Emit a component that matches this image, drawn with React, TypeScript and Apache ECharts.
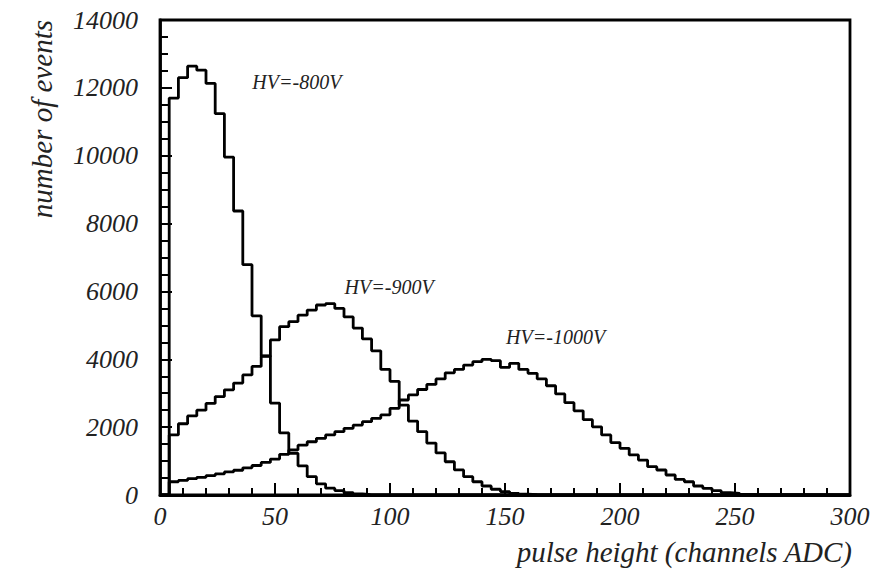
import React, { useEffect, useRef } from "react";
import * as echarts from "echarts";

// bin width of the histograms (ADC channels)
const binWidth = 4;
const xMax = 300;
const yMax = 14000;

// contents of consecutive 4-channel bins starting at channel 0
const hv800 = [0, 11700, 12300, 12640, 12520, 12130, 11240, 9960, 8370, 6790, 5280, 4100, 2710, 1830, 1230, 860, 540, 330, 200, 130, 70, 30, 10, 0];
const hv900 = [0, 1770, 2100, 2330, 2500, 2700, 2900, 3100, 3300, 3540, 3790, 4090, 4570, 4960, 5110, 5300, 5450, 5600, 5640, 5500, 5250, 4920, 4600, 4250, 3700, 3350, 2650, 2180, 1865, 1530, 1240, 980, 740, 540, 390, 265, 170, 100, 50, 25, 10, 0];
const hv1000 = [0, 390, 430, 480, 520, 570, 620, 680, 730, 800, 870, 960, 1060, 1200, 1330, 1470, 1570, 1670, 1770, 1865, 1965, 2060, 2160, 2260, 2360, 2555, 2800, 2950, 3110, 3260, 3420, 3600, 3700, 3830, 3930, 4000, 3960, 3760, 3880, 3700, 3585, 3420, 3220, 2980, 2720, 2480, 2220, 2010, 1770, 1545, 1375, 1180, 1030, 834, 737, 590, 460, 390, 265, 196, 127, 68, 50, 20, 10, 0];

// label annotations: [text, x (channels), y (events)]
const labels: [string, number, number][] = [
  ["HV=-800V", 59.5, 12180],
  ["HV=-900V", 99.6, 6140],
  ["HV=-1000V", 172, 4665],
];

const xAxisTitle = "pulse height (channels ADC)";
const yAxisTitle = "number of events";

const FONT = "'Liberation Serif', 'DejaVu Serif', serif";

function toSteps(values: number[]) {
  const pts: [number, number][] = values.map((v, i) => [i * binWidth, v]);
  pts.push([xMax, 0]);
  return pts;
}

export default function App() {
  const ref = useRef<HTMLDivElement>(null);
  useEffect(() => {
    if (!ref.current) return;
    const chart = echarts.init(ref.current, null, { renderer: "svg" });
    const lineStyle = { color: "#000", width: 2.8 };
    const makeSeries = (name: string, values: number[], lbl: [string, number, number]) => ({
      type: "line",
      name,
      step: "end",
      showSymbol: false,
      symbol: "none",
      lineStyle,
      data: toSteps(values),
      markPoint: {
        symbol: "circle",
        symbolSize: 0,
        silent: true,
        label: {
          show: true,
          position: "inside",
          formatter: lbl[0],
          fontFamily: FONT,
          fontStyle: "italic",
          fontSize: 20,
          color: "#222",
        },
        data: [{ coord: [lbl[1], lbl[2]] }],
      },
    });
    chart.setOption({
      animation: false,
      backgroundColor: "#fff",
      grid: {
        left: 160,
        top: 20,
        right: 34,
        bottom: 81,
        show: true,
        borderColor: "#000",
        borderWidth: 2.8,
        backgroundColor: "transparent",
      },
      xAxis: {
        type: "value",
        min: 0,
        max: xMax,
        interval: 50,
        axisLine: { show: true, lineStyle: { color: "#000", width: 2.8 } },
        axisTick: { show: true, inside: true, length: 12, lineStyle: { color: "#000", width: 2 } },
        minorTick: { show: true, splitNumber: 5, length: 7, lineStyle: { color: "#000", width: 2 } },
        splitLine: { show: false },
        axisLabel: {
          margin: 8,
          formatter: (v: number) => String(v),
          fontFamily: FONT,
          fontStyle: "italic",
          fontSize: 26,
          color: "#222",
        },
      },
      yAxis: {
        type: "value",
        min: 0,
        max: yMax,
        interval: 2000,
        axisLine: { show: true, lineStyle: { color: "#000", width: 2.8 } },
        axisTick: { show: true, inside: true, length: 12, lineStyle: { color: "#000", width: 2 } },
        minorTick: { show: true, splitNumber: 4, length: 8, lineStyle: { color: "#000", width: 2 } },
        splitLine: { show: false },
        axisLabel: {
          margin: 22,
          formatter: (v: number) => String(v),
          fontFamily: FONT,
          fontStyle: "italic",
          fontSize: 26,
          color: "#222",
        },
      },
      graphic: [
        {
          type: "text",
          x: 852,
          y: 552,
          style: {
            text: xAxisTitle,
            align: "right",
            verticalAlign: "middle",
            font: `italic 29px ${FONT}`,
            fill: "#222",
          },
        },
        {
          type: "text",
          x: 42,
          y: 20,
          rotation: Math.PI / 2,
          style: {
            text: yAxisTitle,
            align: "right",
            verticalAlign: "middle",
            font: `italic 29px ${FONT}`,
            fill: "#222",
          },
        },
      ],
      series: [
        makeSeries("HV=-800V", hv800, labels[0]),
        makeSeries("HV=-900V", hv900, labels[1]),
        makeSeries("HV=-1000V", hv1000, labels[2]),
      ],
    });
    return () => chart.dispose();
  }, []);
  return <div ref={ref} style={{ width: 884, height: 576, position: "absolute", left: 0, top: 0 }} />;
}
